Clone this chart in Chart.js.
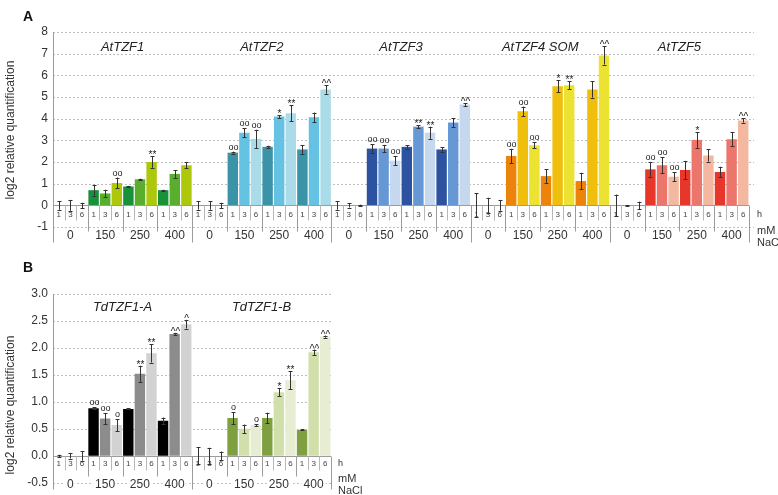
<!DOCTYPE html>
<html>
<head>
<meta charset="utf-8">
<script src="https://cdn.jsdelivr.net/npm/chart.js@4"></script>
<style>
  body { margin: 0; background: #fff; }
  #chartA { position: absolute; left: 0; top: 0; }
  #chartB { position: absolute; left: 0; top: 255px; }
</style>
</head>
<body>
<canvas id="chartA" width="778" height="255"></canvas>
<canvas id="chartB" width="778" height="240"></canvas>
<script>
// Categories
const hours = ['1', '3', '6'];
const concs = ['0', '150', '250', '400'];

// Panel A genes (12 values each: 0, 150, 250, 400 mM x 1, 3, 6 h)
const genesA = ['AtTZF1', 'AtTZF2', 'AtTZF3', 'AtTZF4 SOM', 'AtTZF5'];
const tzf1 = [0, 0, 0, 0.7, 0.55, 1.03, 0.87, 1.2, 2.0, 0.7, 1.45, 1.85];
const tzf1Err = [0.2, 0.25, 0.12, 0.25, 0.17, 0.25, 0.03, 0.03, 0.27, 0.02, 0.18, 0.13];
const tzf1Sig = ['', '', '', '', '', 'oo', '', '', '**', '', '', ''];
const tzf2 = [0, 0, 0, 2.43, 3.35, 3.07, 2.7, 4.1, 4.25, 2.58, 4.06, 5.35];
const tzf2Err = [0.2, 0.2, 0.12, 0.05, 0.2, 0.42, 0.05, 0.07, 0.38, 0.2, 0.22, 0.2];
const tzf2Sig = ['', '', '', 'oo', 'oo', 'oo', '', '*', '**', '', '', '^^'];
const tzf3 = [0, 0, 0, 2.62, 2.62, 2.06, 2.7, 3.63, 3.35, 2.58, 3.82, 4.65];
const tzf3Err = [0.2, 0.1, 0.03, 0.2, 0.17, 0.2, 0.08, 0.07, 0.28, 0.1, 0.2, 0.07];
const tzf3Sig = ['', '', '', 'oo', 'oo', 'oo', '', '**', '**', '', '', '^^'];
const tzf4 = [0, 0, 0, 2.28, 4.34, 2.77, 1.35, 5.5, 5.54, 1.12, 5.35, 6.92];
const tzf4Err = [0.55, 0.35, 0.25, 0.33, 0.22, 0.14, 0.32, 0.28, 0.19, 0.38, 0.38, 0.42];
const tzf4Sig = ['', '', '', 'oo', 'oo', 'oo', '', '*', '**', '', '', '^^'];
const tzf5 = [0, 0, 0, 1.66, 1.85, 1.32, 1.63, 3.02, 2.3, 1.54, 3.05, 3.92];
const tzf5Err = [0.5, 0.02, 0.17, 0.34, 0.38, 0.2, 0.42, 0.36, 0.28, 0.24, 0.32, 0.1];
const tzf5Sig = ['', '', '', 'oo', 'oo', 'oo', '', '*', '', '', '', '^^'];

// Panel B genes
const genesB = ['TdTZF1-A', 'TdTZF1-B'];
const tdA = [0, 0, 0, 0.88, 0.69, 0.57, 0.87, 1.52, 1.9, 0.65, 2.26, 2.44];
const tdAErr = [0.02, 0.05, 0.09, 0.02, 0.1, 0.11, 0.01, 0.15, 0.17, 0.06, 0.02, 0.08];
const tdASig = ['', '', '', 'oo', 'oo', 'o', '', '**', '**', '', '^^', '^'];
const tdB = [0, 0, 0, 0.7, 0.5, 0.57, 0.7, 1.18, 1.4, 0.48, 1.92, 2.21];
const tdBErr = [0.16, 0.15, 0.08, 0.11, 0.08, 0.02, 0.1, 0.08, 0.17, 0.01, 0.05, 0.02];
const tdBSig = ['', '', '', 'o', '', 'o', '', '*', '**', '', '^^', '^^'];

// Colours per gene, for 1 / 3 / 6 h
const paletteA = [
  ['#17923a', '#5aae2e', '#adc80a'],
  ['#3b93a8', '#66c2e2', '#a9dbe8'],
  ['#2c52a0', '#6598d4', '#c6d8ee'],
  ['#ec840c', '#f0be0c', '#ece232'],
  ['#e6372a', '#ec766c', '#f4b8a0']
];
const paletteB = [
  ['#000000', '#8c8c8c', '#d2d2d2'],
  ['#7fa040', '#d1e0ab', '#e6edd3']
];

const FONT = '"Liberation Sans", Arial, sans-serif';

// grid lines, separators, hour/concentration labels, error bars, titles
const decor = {
  id: 'decor',
  beforeDatasetsDraw(chart, args, o) {
    const ctx = chart.ctx, ys = chart.scales.y, a = chart.chartArea;
    ctx.save();
    ctx.lineWidth = 1;
    ys.ticks.forEach(t => {
      if (t.value === 0) return;
      const py = Math.round(ys.getPixelForValue(t.value)) + 0.5;
      ctx.setLineDash([2, 2]);
      ctx.strokeStyle = '#bdbdbd';
      ctx.beginPath();
      ctx.moveTo(a.left, py);
      ctx.lineTo(a.right + o.gridExt, py);
      ctx.stroke();
    });
    ctx.restore();
  },
  afterDatasetsDraw(chart, args, o) {
    const ctx = chart.ctx, xs = chart.scales.x, ys = chart.scales.y, a = chart.chartArea;
    const ds = chart.data.datasets[0];
    const n = ds.data.length;
    const y0 = Math.round(ys.getPixelForValue(0)) + 0.5;
    ctx.save();
    ctx.lineWidth = 1;
    ctx.setLineDash([]);
    ctx.strokeStyle = '#9c9c9c';
    // zero line
    ctx.beginPath();
    ctx.moveTo(a.left, y0);
    ctx.lineTo(a.right, y0);
    ctx.stroke();
    // y axis line
    const ax = Math.round(a.left) + 0.5;
    ctx.beginPath();
    ctx.moveTo(ax, a.top);
    ctx.lineTo(ax, y0 + o.geneLen);
    ctx.stroke();
    // separators
    for (let i = 1; i <= n; i++) {
      const x = i === n ? a.right : (xs.getPixelForValue(i - 1) + xs.getPixelForValue(i)) / 2;
      const px = Math.round(x) + 0.5;
      let len = o.hourLen;
      if (i % 12 === 0) len = o.geneLen;
      else if (i % 3 === 0) len = o.concLen;
      ctx.strokeStyle = i % 3 === 0 ? '#9c9c9c' : '#b8b8b8';
      ctx.beginPath();
      ctx.moveTo(px, y0);
      ctx.lineTo(px, y0 + len);
      ctx.stroke();
    }
    // hour labels
    ctx.fillStyle = '#444';
    ctx.font = '8px ' + FONT;
    ctx.textAlign = 'center';
    ctx.textBaseline = 'middle';
    chart.data.labels.forEach((lab, i) => {
      ctx.fillText(hours[i % 3], xs.getPixelForValue(i), y0 + o.hourDy);
    });
    // concentration labels
    ctx.font = '12px ' + FONT;
    for (let i = 1; i < n; i += 3) {
      const txt = concs[Math.floor(i / 3) % 4];
      const x = xs.getPixelForValue(i);
      if (o.concBg) {
        const w = ctx.measureText(txt).width + 4;
        ctx.fillStyle = '#fff';
        ctx.fillRect(x - w / 2, y0 + o.concDy - 5, w, 10);
      }
      ctx.fillStyle = '#333';
      ctx.fillText(txt, x, y0 + o.concDy);
    }
    // error bars + significance marks
    ds.data.forEach((v, i) => {
      const e = o.errs[i];
      const x = Math.round(xs.getPixelForValue(i)) + 0.5;
      const top = ys.getPixelForValue(v + e);
      const bot = ys.getPixelForValue(v - e);
      ctx.strokeStyle = '#333';
      ctx.beginPath();
      ctx.moveTo(x, top); ctx.lineTo(x, bot);
      ctx.moveTo(x - 2, Math.round(top) + 0.5); ctx.lineTo(x + 2, Math.round(top) + 0.5);
      ctx.moveTo(x - 2, Math.round(bot) + 0.5); ctx.lineTo(x + 2, Math.round(bot) + 0.5);
      ctx.stroke();
      const s = o.sigs[i];
      if (s) {
        ctx.fillStyle = '#222';
        ctx.textBaseline = 'alphabetic';
        if (s[0] === 'o') {
          ctx.font = '9px ' + FONT;
          ctx.fillText(s, x, top - 2);
        } else {
          ctx.font = '10px ' + FONT;
          ctx.fillText(s, x, top + 2);
        }
      }
    });
    // gene titles
    ctx.fillStyle = '#222';
    ctx.font = 'italic 13px ' + FONT;
    ctx.textBaseline = 'middle';
    o.genes.forEach((g, gi) => {
      const x = (xs.getPixelForValue(gi * 12) + xs.getPixelForValue(gi * 12 + 11)) / 2;
      ctx.fillText(g, x, o.titleY);
    });
    // unit labels
    ctx.textAlign = 'left';
    ctx.fillStyle = '#333';
    ctx.font = '9px ' + FONT;
    ctx.fillText('h', a.right + o.unitDx, y0 + o.hourDy);
    ctx.font = '11px ' + FONT;
    ctx.fillText('mM', a.right + o.unitDx, y0 + o.mmDy);
    ctx.fillText('NaCl', a.right + o.unitDx, y0 + o.mmDy + 12);
    // panel letter
    ctx.font = 'bold 14px ' + FONT;
    ctx.fillStyle = '#111';
    ctx.textAlign = 'center';
    ctx.fillText(o.letter, 28, o.letterY);
    // y title
    ctx.translate(11, o.yTitleY);
    ctx.rotate(-Math.PI / 2);
    ctx.font = '12px ' + FONT;
    ctx.fillStyle = '#333';
    ctx.fillText('log2 relative quantification', 0, 0);
    ctx.restore();
  }
};

function buildPanel(id, genes, values, errs, sigs, palette, yCfg, pad, deco) {
  const labels = [], data = [], err = [], sig = [], colors = [];
  genes.forEach((g, gi) => {
    concs.forEach((c, ci) => {
      hours.forEach((h, hi) => {
        const k = ci * 3 + hi;
        labels.push(g + ' ' + c + ' mM ' + h + ' h');
        data.push(values[gi][k]);
        err.push(errs[gi][k]);
        sig.push(sigs[gi][k]);
        colors.push(palette[gi][hi]);
      });
    });
  });
  deco.errs = err;
  deco.sigs = sig;
  deco.genes = genes;
  return new Chart(document.getElementById(id), {
    type: 'bar',
    data: {
      labels: labels,
      datasets: [{
        data: data,
        backgroundColor: colors,
        borderWidth: 0,
        barPercentage: 0.9,
        categoryPercentage: 1.0
      }]
    },
    options: {
      responsive: false,
      animation: false,
      layout: { padding: pad },
      plugins: { legend: { display: false }, tooltip: { enabled: false }, decor: deco },
      scales: {
        x: { display: false },
        y: {
          min: yCfg.min,
          max: yCfg.max,
          afterFit: s => { s.width = 53; },
          grid: { display: false, drawTicks: false },
          border: { display: false },
          ticks: {
            stepSize: yCfg.step,
            padding: 5,
            color: '#333',
            font: { family: FONT, size: 12 },
            callback: yCfg.fmt
          }
        }
      }
    },
    plugins: [decor]
  });
}

buildPanel('chartA', genesA,
  [tzf1, tzf2, tzf3, tzf4, tzf5],
  [tzf1Err, tzf2Err, tzf3Err, tzf4Err, tzf5Err],
  [tzf1Sig, tzf2Sig, tzf3Sig, tzf4Sig, tzf5Sig],
  paletteA,
  { min: -1, max: 8, step: 1, fmt: v => v },
  { left: 0, right: 29, top: 32, bottom: 28 },
  { gridExt: 5, hourLen: 15, concLen: 26, geneLen: 37, hourDy: 9, concDy: 30.5,
    concBg: false, unitDx: 8, mmDy: 25.5, titleY: 47, letter: 'A', letterY: 17, yTitleY: 130 });

buildPanel('chartB', genesB,
  [tdA, tdB],
  [tdAErr, tdBErr],
  [tdASig, tdBSig],
  paletteB,
  { min: -0.5, max: 3, step: 0.5, fmt: v => v.toFixed(1) },
  { left: 0, right: 447, top: 39, bottom: 12 },
  { gridExt: 0, hourLen: 14, concLen: 20, geneLen: 33, hourDy: 7, concDy: 28,
    concBg: true, unitDx: 7, mmDy: 22, titleY: 52, letter: 'B', letterY: 13, yTitleY: 150 });
</script>
</body>
</html>
